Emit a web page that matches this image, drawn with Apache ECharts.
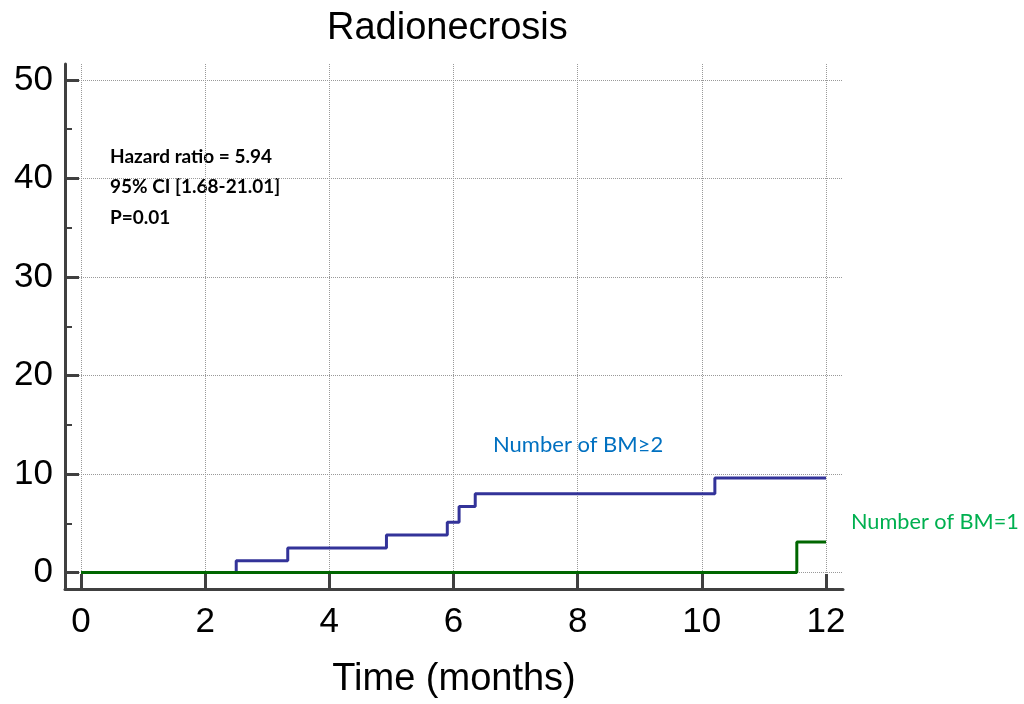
<!DOCTYPE html>
<html>
<head>
<meta charset="utf-8">
<script src="https://cdn.jsdelivr.net/npm/echarts@6/dist/echarts.min.js"></script>
<style>
  html, body { margin: 0; padding: 0; background: #fff; }
  #chart { width: 1024px; height: 704px; }
</style>
</head>
<body>
<div id="chart"></div>
<script>
// 数据
const xTicks = [0, 2, 4, 6, 8, 10, 12];
const yTicks = [0, 10, 20, 30, 40, 50];
const yMinorTicks = [5, 15, 25, 35, 45];

// Number of BM>=2
const bm2Times = [0, 2.5, 3.33, 4.92, 5.9, 6.09, 6.35, 10.21, 12];
const bm2Values = [0, 1.2, 2.5, 3.8, 5.1, 6.7, 8.0, 9.6, 9.6];

// Number of BM=1
const bm1Times = [0, 11.53, 12];
const bm1Values = [0, 3.1, 3.1];

const annotLines = ["Hazard ratio = 5.94", "95% CI [1.68-21.01]", "P=0.01"];

function pairs(xs, ys) {
  return xs.map((x, i) => [x, ys[i]]);
}

const myChart = echarts.init(document.getElementById("chart"));

const axisColor = "#404040";
const gridLine = { show: true, lineStyle: { color: "#999", type: "dotted", width: 1 } };

const option = {
  animation: false,
  title: {
    text: "Radionecrosis",
    left: 327,
    top: 10,
    padding: 0,
    textStyle: { fontFamily: "Liberation Sans", fontSize: 38, fontWeight: "normal", color: "#000" },
  },
  grid: { left: 65, right: 181, top: 64, bottom: 114 },
  xAxis: {
    type: "value",
    min: -0.258,
    max: 12.274,
    name: "Time (months)",
    nameLocation: "middle",
    nameGap: 72,
    nameTextStyle: { fontFamily: "Liberation Sans", fontSize: 38, color: "#000" },
    axisLine: { show: true, onZero: false, lineStyle: { color: axisColor, width: 3 } },
    axisTick: { show: true, inside: true, length: 15, customValues: xTicks, lineStyle: { color: axisColor, width: 3 } },
    axisLabel: { customValues: xTicks, margin: 16, fontFamily: "Liberation Sans", fontSize: 35, color: "#000" },
    splitLine: gridLine,
  },
  yAxis: [
    {
      type: "value",
      min: -1.67,
      max: 51.62,
      axisLine: { show: true, onZero: false, lineStyle: { color: axisColor, width: 3 } },
      axisTick: { show: true, inside: true, length: 14, customValues: yTicks, lineStyle: { color: axisColor, width: 3 } },
      axisLabel: { customValues: yTicks, margin: 12, fontFamily: "Liberation Sans", fontSize: 35, color: "#000" },
      splitLine: gridLine,
    },
    {
      // 次刻度
      type: "value",
      position: "left",
      min: -1.67,
      max: 51.62,
      axisLine: { show: false, onZero: false },
      axisTick: { show: true, inside: true, length: 7, customValues: yMinorTicks, lineStyle: { color: axisColor, width: 2 } },
      axisLabel: { show: false },
      splitLine: { show: false },
    },
  ],
  series: [
    {
      name: "Number of BM≥2",
      type: "line",
      step: "end",
      data: pairs(bm2Times, bm2Values),
      symbol: "none",
      lineStyle: { color: "#333399", width: 3 },
      z: 3,
    },
    {
      name: "Number of BM=1",
      type: "line",
      step: "end",
      data: pairs(bm1Times, bm1Values),
      symbol: "none",
      lineStyle: { color: "#006600", width: 3 },
      z: 4,
    },
  ],
  graphic: [
    ...annotLines.map((t, i) => ({
      type: "text",
      left: 110,
      top: 147 + i * 30.5,
      style: { text: t, font: "bold 19px Lato", fill: "#000" },
    })),
    {
      type: "text",
      left: 493,
      top: 434,
      style: { text: "Number of BM≥2", font: "22px Lato", fill: "#0070C0" },
    },
    {
      type: "text",
      left: 851,
      top: 511,
      style: { text: "Number of BM=1", font: "21.7px Lato", fill: "#00B050" },
    },
  ],
};

myChart.setOption(option);
window.addEventListener("resize", () => myChart.resize());
</script>
</body>
</html>
